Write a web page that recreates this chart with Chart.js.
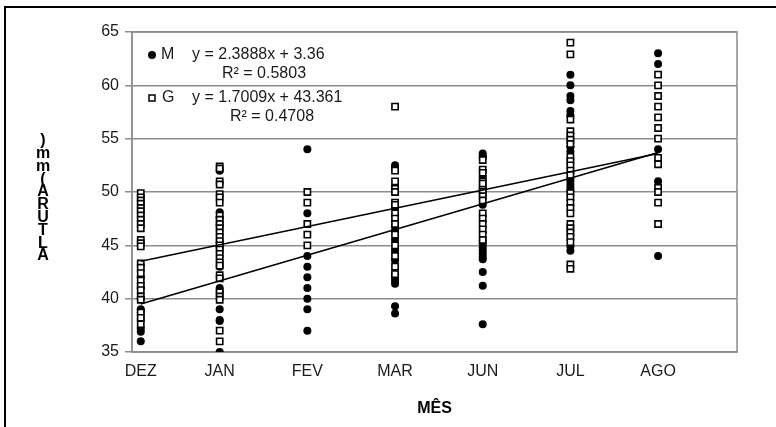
<!DOCTYPE html>
<html>
<head>
<meta charset="utf-8">
<script src="https://cdn.jsdelivr.net/npm/chart.js@4.4.0/dist/chart.umd.min.js"></script>
<style>
  html, body { margin: 0; padding: 0; background: #fff; }
</style>
</head>
<body>
<canvas id="chart" width="776" height="427"></canvas>
<script>
// categories and where each one sits on the x scale
const months = ['DEZ', 'JAN', 'FEV', 'MAR', 'JUN', 'JUL', 'AGO'];
const monthX = [0.1, 1, 2, 3, 4, 5, 6];
const yTicks = [35, 40, 45, 50, 55, 60, 65];

// M (filled circles), one row per month
const seriesM = [
  [42.0, 41.0, 40.0, 39.0, 38.7, 38.1, 37.2, 36.9, 36.0],                                  // DEZ
  [52.0, 48.1, 47.6, 46.9, 45.3, 44.8, 43.0, 41.0, 40.7, 39.0, 38.0, 37.9, 35.0],          // JAN
  [54.0, 48.0, 44.0, 43.0, 42.0, 41.0, 40.0, 39.0, 37.0],                                  // FEV
  [52.5, 52.2, 50.5, 48.5, 47.8, 46.8, 46.4, 45.5, 44.5, 43.6, 42.3, 42.0, 41.7, 41.4, 39.3, 38.6], // MAR
  [53.6, 53.4, 53.2, 51.4, 50.4, 48.8, 45.4, 45.1, 44.8, 44.5, 44.2, 43.9, 43.7, 42.5, 41.2, 37.6], // JUN
  [61.0, 60.0, 59.0, 58.6, 57.6, 57.2, 54.2, 53.8, 51.3, 51.0, 50.7, 50.4, 50.1, 44.9, 44.5], // JUL
  [63.0, 62.0, 54.0, 51.0, 44.0]                                                           // AGO
];

// G (open squares), one row per month
const seriesG = [
  [49.9, 49.5, 49.2, 48.9, 48.5, 48.2, 47.8, 47.4, 47.0, 46.6, 45.5, 45.2, 44.9, 43.3, 42.9, 42.4, 41.7, 41.2, 40.8, 40.2, 39.9, 38.7, 38.2, 37.6], // DEZ
  [52.4, 52.2, 51.0, 50.7, 49.8, 49.5, 49.0, 47.8, 47.4, 47.0, 46.6, 46.2, 45.8, 45.4, 45.0, 44.6, 44.2, 43.8, 43.4, 43.1, 42.2, 41.9, 40.6, 40.2, 39.9, 37.0, 36.0], // JAN
  [50.0, 49.0, 47.0, 46.0, 45.0],                                                          // FEV
  [58.0, 52.0, 51.0, 50.3, 50.0, 49.0, 48.8, 48.0, 47.5, 47.0, 46.0, 45.0, 44.0, 43.0, 42.3], // MAR
  [53.0, 52.1, 51.8, 51.0, 50.8, 50.2, 50.0, 49.6, 49.2, 48.0, 47.5, 47.0, 46.5, 46.0, 45.5], // JUN
  [64.0, 62.9, 56.8, 55.7, 55.3, 54.9, 54.5, 53.3, 52.9, 52.5, 52.0, 51.6, 49.9, 49.5, 49.0, 48.5, 48.0, 47.0, 46.6, 46.2, 45.8, 45.3, 43.2, 42.8], // JUL
  [61.0, 60.0, 59.0, 58.0, 57.0, 56.0, 55.0, 53.2, 52.6, 50.4, 50.0, 49.0, 47.0]          // AGO
];

const trendM = [39.5, 53.7];
const trendG = [43.5, 53.6];
const eqM = ['y = 2.3888x + 3.36', 'R² = 0.5803'];
const eqG = ['y = 1.7009x + 43.361', 'R² = 0.4708'];

const FONT = '"Liberation Sans", Arial, sans-serif';
const GRID = '#8c8c8c';

function toPoints(series) {
  return series.flatMap((vals, i) => vals.map(v => ({ x: monthX[i], y: v })));
}
function trendPoints(ends) {
  return [{ x: monthX[0], y: ends[0] }, { x: monthX[monthX.length - 1], y: ends[1] }];
}

const decor = {
  id: 'decor',
  beforeDatasetsDraw(chart) {
    const { ctx, chartArea: a } = chart;
    ctx.save();
    ctx.strokeStyle = GRID;
    ctx.lineWidth = 1.5;
    ctx.strokeRect(a.left, a.top, a.right - a.left, a.bottom - a.top);
    ctx.restore();
  },
  afterDraw(chart) {
    const { ctx, chartArea: a } = chart;
    ctx.save();

    // outer frame (right and bottom fall outside the picture)
    ctx.strokeStyle = '#000';
    ctx.lineWidth = 2;
    ctx.beginPath();
    ctx.moveTo(5, 440);
    ctx.lineTo(5, 7);
    ctx.lineTo(790, 7);
    ctx.stroke();

    // y title, letters stacked bottom to top
    ctx.fillStyle = '#000';
    ctx.font = 'bold 16px ' + FONT;
    ctx.textAlign = 'center';
    ctx.textBaseline = 'middle';
    const ytitle = 'ALTURA(mm)';
    for (let i = 0; i < ytitle.length; i++) {
      ctx.fillText(ytitle[i], 43, 256 - i * 12.8);
    }

    // legend with equations
    ctx.font = '16px ' + FONT;
    ctx.fillStyle = '#1a1a1a';
    ctx.textAlign = 'left';
    const mx = a.left + 20;
    const rowM = a.top + 23, rowG = a.top + 66;

    ctx.beginPath();
    ctx.arc(mx, rowM, 4, 0, Math.PI * 2);
    ctx.fillStyle = '#000';
    ctx.fill();
    ctx.fillStyle = '#1a1a1a';
    ctx.fillText('M', mx + 9, rowM);
    ctx.fillText(eqM[0], a.left + 60, rowM);
    ctx.fillText(eqM[1], a.left + 90, rowM + 19);

    ctx.strokeStyle = '#000';
    ctx.lineWidth = 1.5;
    ctx.fillStyle = '#fff';
    ctx.fillRect(mx - 3, rowG - 3, 6, 6);
    ctx.strokeRect(mx - 3, rowG - 3, 6, 6);
    ctx.fillStyle = '#1a1a1a';
    ctx.fillText('G', mx + 10, rowG);
    ctx.fillText(eqG[0], a.left + 60, rowG);
    ctx.fillText(eqG[1], a.left + 98, rowG + 19);

    ctx.restore();
  }
};

new Chart(document.getElementById('chart'), {
  type: 'scatter',
  data: {
    datasets: [
      {
        label: 'trend M', type: 'line', data: trendPoints(trendM),
        borderColor: '#000', borderWidth: 1.5, pointRadius: 0, fill: false, order: 0
      },
      {
        label: 'trend G', type: 'line', data: trendPoints(trendG),
        borderColor: '#000', borderWidth: 1.5, pointRadius: 0, fill: false, order: 0
      },
      {
        label: 'G', data: toPoints(seriesG),
        pointStyle: 'rect', pointRadius: 4.4, pointBorderWidth: 1.6,
        pointBackgroundColor: '#fff', pointBorderColor: '#000', order: 1
      },
      {
        label: 'M', data: toPoints(seriesM),
        pointStyle: 'circle', pointRadius: 4, pointBorderWidth: 0,
        pointBackgroundColor: '#000', pointBorderColor: '#000', order: 2
      }
    ]
  },
  options: {
    responsive: false,
    animation: false,
    devicePixelRatio: 1,
    layout: { padding: { top: 32, right: 39, left: 0, bottom: 0 } },
    plugins: { legend: { display: false }, tooltip: { enabled: false } },
    scales: {
      x: {
        type: 'linear',
        min: 0,
        max: 6.9,
        afterBuildTicks: s => { s.ticks = monthX.map(v => ({ value: v })); },
        afterFit: s => { s.height = 75; },
        grid: { display: false, drawTicks: false },
        border: { display: true, color: GRID, width: 1.5 },
        ticks: {
          autoSkip: false, maxRotation: 0, padding: 10,
          color: '#1a1a1a', font: { family: FONT, size: 16 },
          callback: (v, i) => months[i]
        },
        title: {
          display: true, text: 'MÊS', color: '#000',
          font: { family: FONT, size: 16, weight: 'bold' },
          padding: { top: 0, bottom: 9 }
        }
      },
      y: {
        min: yTicks[0],
        max: yTicks[yTicks.length - 1],
        afterBuildTicks: s => { s.ticks = yTicks.map(v => ({ value: v })); },
        afterFit: s => { s.width = 132; },
        grid: { color: GRID, lineWidth: 1.5, tickLength: 7, drawTicks: true },
        border: { display: true, color: GRID, width: 1.5 },
        ticks: { padding: 6, color: '#1a1a1a', font: { family: FONT, size: 16 } }
      }
    }
  },
  plugins: [decor]
});
</script>
</body>
</html>
